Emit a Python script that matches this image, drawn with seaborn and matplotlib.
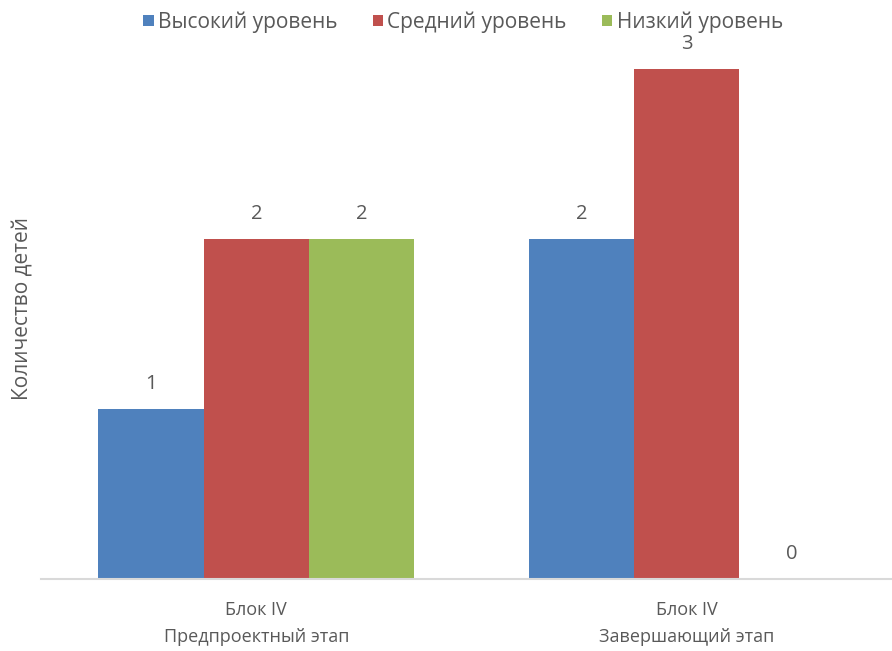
import matplotlib
matplotlib.use('Agg')
import matplotlib.pyplot as plt
import seaborn as sns
import pandas as pd

# chart data
categories = ["Блок IV\nПредпроектный этап", "Блок IV\nЗавершающий этап"]
levels = ["Высокий уровень", "Средний уровень", "Низкий уровень"]
high = [1, 2]
medium = [2, 3]
low = [2, 0]

palette = ["#4F81BD", "#C0504D", "#9BBB59"]
text_color = "#595959"

rows = []
for lvl, vals in zip(levels, [high, medium, low]):
    for cat, v in zip(categories, vals):
        rows.append({"cat": cat, "level": lvl, "value": v})
df = pd.DataFrame(rows)

sns.set_theme(style="white")
plt.rcParams['font.family'] = ['Open Sans', 'DejaVu Sans']

fig = plt.figure(figsize=(8.92, 6.51), dpi=100)
ax = fig.add_axes([41 / 892, 72 / 651, 861 / 892, 510 / 651])

sns.barplot(data=df, x="cat", y="value", hue="level", hue_order=levels,
            palette=palette, width=0.733, saturation=1, ax=ax,
            errorbar=None, linewidth=0, legend=True)

ax.set_ylim(0, 3)
ax.set_xlim(-0.5, 1.5)
ax.set_yticks([])
ax.set_ylabel("Количество детей", fontsize=15, color=text_color)
ax.yaxis.set_label_coords(-0.009, 0.531)
ax.set_xlabel("")
ax.tick_params(axis='x', length=0, pad=16, labelsize=13, labelcolor=text_color)
for lbl in ax.get_xticklabels():
    lbl.set_linespacing(1.6)

for s in ["top", "right", "left"]:
    ax.spines[s].set_visible(False)
ax.spines["bottom"].set_color("#D9D9D9")
ax.spines["bottom"].set_linewidth(1.5)

for cont in ax.containers:
    ax.bar_label(cont, padding=11, fontsize=14.5, color=text_color)

handles, labels = ax.get_legend_handles_labels()
ax.get_legend().remove()
fig.legend(handles, labels, loc="upper center", bbox_to_anchor=(463 / 892, 1.0),
           ncol=3, frameon=False, fontsize=15, labelcolor=text_color,
           handlelength=0.5, handleheight=0.5, handletextpad=0.2, columnspacing=1.7,
           borderaxespad=0.15)

fig.savefig("out.png", dpi=100)
